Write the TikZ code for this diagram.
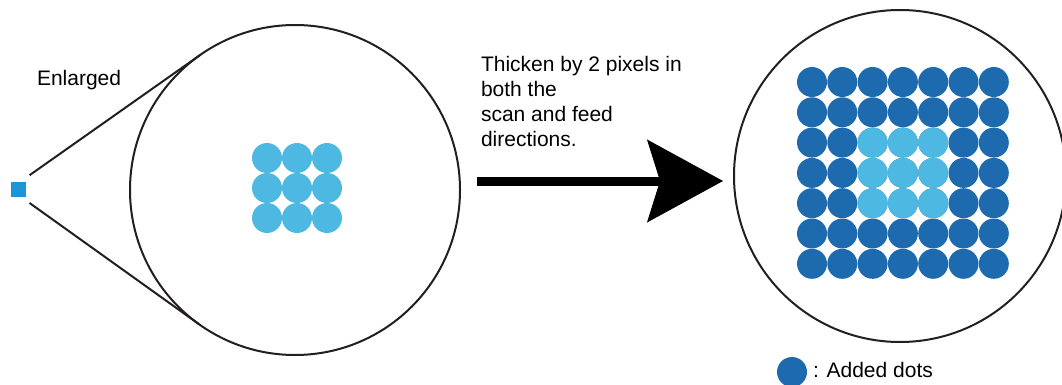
\documentclass[tikz,border=0pt]{standalone}
\usepackage{fontspec}
\setmainfont{Liberation Sans}
\usetikzlibrary{arrows.meta,calc}
\definecolor{dotlight}{HTML}{4DB9E2}
\definecolor{dotdark}{HTML}{1D6AAE}
\definecolor{spotblue}{HTML}{1B95D8}
\definecolor{inkgray}{HTML}{231F20}

\begin{document}
\begin{tikzpicture}[x=1pt,y=-1pt,line width=2pt,font=\fontsize{21}{25}\selectfont]
  \tikzstyle{lens}=[draw=inkgray, circle, inner sep=0pt, outer sep=0pt]
  \tikzstyle{txt}=[inner sep=0pt, anchor=base west]
  \useasboundingbox (0,0) rectangle (1062,385);

  \node[lens, minimum size=330pt] (zoomin) at (295,190) {};
  \node[lens, minimum size=332pt] (result) at (900,176) {};
  \node[fill=spotblue, minimum size=15pt, inner sep=0pt] (spot) at (18.5,189.5) {};
  \coordinate (apex) at (10,189);

  \draw[inkgray, shorten <=24pt] (apex) -- (tangent cs:node=zoomin,point={(apex)},solution=1);
  \draw[inkgray, shorten <=24pt] (apex) -- (tangent cs:node=zoomin,point={(apex)},solution=2);

  \foreach \i in {-1,0,1}
    \foreach \j in {-1,0,1}
      \fill[dotlight] (297+30*\i,188+30*\j) circle (15pt);

  \foreach \i in {0,...,6}
    \foreach \j in {0,...,6}
      \fill[dotdark] (812+30.3*\i,82+30.3*\j) circle (15pt);
  \foreach \i in {2,3,4}
    \foreach \j in {2,3,4}
      \fill[dotlight] (812+30.3*\i,82+30.3*\j) circle (15pt);

  \coordinate (tail) at (477,181);
  \coordinate (head) at (723,181);
  \draw[-{Stealth[length=76pt,width=83pt,inset=13pt,line width=1pt]}, line width=9pt] (tail) -- (head);

  \node[txt] (enlarged) at (36,86) {Enlarged};
  \node[txt, align=left, anchor=north west] (note) at (480,55) {Thicken by 2 pixels in\\both the\\scan and feed\\directions.};

  \node[circle, fill=dotdark, minimum size=30pt, inner sep=0pt] (key) at (792,372) {};
  \node[txt] (keytext) at (812,377) {: Added dots};
\end{tikzpicture}
\end{document}
